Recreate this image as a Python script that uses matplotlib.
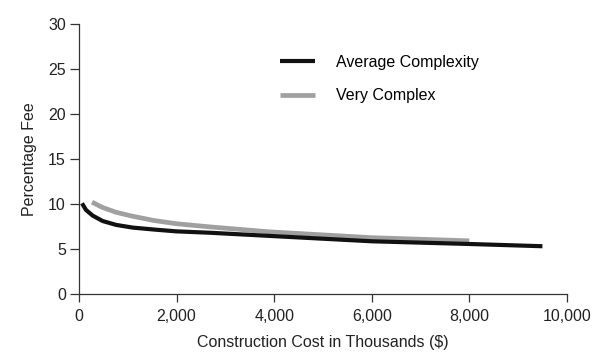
import matplotlib
matplotlib.use('Agg')
import matplotlib.pyplot as plt

# values (cost in thousands of $, fee in %)
avg_cost = [61, 143, 280, 485, 760, 1100, 1545, 2000, 2680, 3900, 6000, 8000, 9500]
avg_fee = [10.07, 9.33, 8.7, 8.1, 7.67, 7.37, 7.15, 6.95, 6.8, 6.45, 5.85, 5.55, 5.3]

cplx_cost = [266, 485, 760, 1100, 1545, 2000, 2680, 3900, 6000, 8000]
cplx_fee = [10.2, 9.6, 9.07, 8.63, 8.15, 7.8, 7.45, 6.9, 6.25, 5.9]

x_ticks = [0, 2000, 4000, 6000, 8000, 10000]
y_ticks = [0, 5, 10, 15, 20, 25, 30]

plt.rcParams['font.family'] = ['Liberation Sans', 'DejaVu Sans']
plt.rcParams['font.size'] = 11.5

fig = plt.figure(figsize=(5.96, 3.62), dpi=100)
ax = fig.add_axes([0.1326, 0.188, 0.8184, 0.746])

axis_col = '#333333'
ax.plot(avg_cost, avg_fee, color='#111111', lw=3.0, solid_capstyle='butt',
        solid_joinstyle='round', label='Average Complexity', zorder=3)
ax.plot(cplx_cost, cplx_fee, color='#a0a0a0', lw=3.4, solid_capstyle='butt',
        solid_joinstyle='round', label='Very Complex', zorder=2)

ax.set_xlim(0, 10000)
ax.set_ylim(0, 30)
ax.set_xticks(x_ticks)
ax.set_xticklabels([f'{v:,}' for v in x_ticks])
ax.set_yticks(y_ticks)

for side in ['top', 'right']:
    ax.spines[side].set_visible(False)
for side in ['left', 'bottom']:
    ax.spines[side].set_color(axis_col)
    ax.spines[side].set_linewidth(0.9)

ax.tick_params(axis='both', colors=axis_col, labelcolor='#222222', width=0.9, labelsize=11.5)
ax.tick_params(axis='y', length=6.5, pad=3)
ax.tick_params(axis='x', length=6, pad=5)

ax.set_xlabel('Construction Cost in Thousands ($)', color='#222222', labelpad=8)
ax.set_ylabel('Percentage Fee', color='#222222', labelpad=8)

ax.legend(frameon=False, loc='upper left', bbox_to_anchor=(0.412, 0.885),
          borderaxespad=0, borderpad=0, handlelength=2.2, handletextpad=1.3,
          labelspacing=1.15, fontsize=11.5)

fig.savefig('out.png', dpi=100, facecolor='white')
